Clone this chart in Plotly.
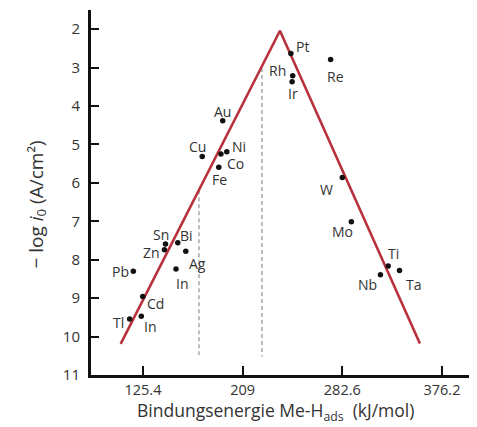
import plotly.graph_objects as go

# Metal data: binding energy Me-H_ads (kJ/mol) and -log i0 (A/cm^2)
metals = ["Pt", "Rh", "Ir", "Re", "W", "Mo", "Ti", "Nb", "Ta",
          "Au", "Cu", "Ni", "Co", "Fe", "Sn", "Bi", "Zn", "Ag",
          "Pb", "In", "Cd", "Tl", "In"]
energy = [249.5, 251.0, 250.5, 282.8, 292.6, 300.2, 331.1, 324.6, 340.6,
          192.3, 175.1, 195.7, 190.8, 189.0, 144.3, 154.6, 143.4, 161.3,
          117.3, 153.1, 125.2, 114.2, 124.0]
neg_log_i0 = [2.63, 3.21, 3.37, 2.79, 5.86, 7.01, 8.16, 8.39, 8.28,
              4.38, 5.31, 5.19, 5.25, 5.59, 7.59, 7.56, 7.74, 7.78,
              8.30, 8.24, 8.96, 9.54, 9.47]

# Volcano line
volcano_x = [106.7, 240.3, 357.7]
volcano_y = [10.19, 2.04, 10.18]

# Dashed reference lines
dash_x = [172.4, 225.2]
dash_top = [6.19, 3.01]
dash_bottom = [10.48, 10.52]

# Axis ticks
x_tickvals = [125.4, 209.0, 292.6, 376.2]
x_ticktext = ["125.4", "209", "282.6", "376.2"]
y_tickvals = [2, 3, 4, 5, 6, 7, 8, 9, 10, 11]

# label offsets in px (dx, dy up)
label_offsets = [(12, 7), (-15, 5), (1, -12), (5, -17), (-16, -12), (-9, -10),
                 (5, 12), (-13, -10), (14, -14),
                 (0, 9), (-5, 10), (12, 5), (15, -9), (1, -12),
                 (-5, 9), (9, 7), (-13, -3), (12, -12),
                 (-13, 0), (6, -15), (13, -7), (-11, -4), (9, -10)]

FONT = "Open Sans"
TXT = "#333333"
PAGE_OFFSET = 8  # default body margin of the html page

L, T, R, B = 91, 10, 0, 52
W, H = 477, 427
plot_w = W - L - R
plot_h = H - T - B

fig = go.Figure()

for x, yt, yb in zip(dash_x, dash_top, dash_bottom):
    fig.add_trace(go.Scatter(x=[x, x], y=[yt, yb], mode="lines",
                             line=dict(color="#9a9a9a", width=1.3, dash="4px,3px"),
                             showlegend=False, hoverinfo="skip"))

fig.add_trace(go.Scatter(x=volcano_x, y=volcano_y, mode="lines",
                         line=dict(color="#b8323c", width=2.6),
                         showlegend=False, hoverinfo="skip"))

fig.add_trace(go.Scatter(x=energy, y=neg_log_i0, mode="markers",
                         marker=dict(color="#111111", size=5.5),
                         showlegend=False, text=metals))

for name, x, y, (dx, dy) in zip(metals, energy, neg_log_i0, label_offsets):
    fig.add_annotation(x=x, y=y, text=name, showarrow=False,
                       xshift=dx, yshift=dy,
                       font=dict(family=FONT, size=14, color=TXT))

fig.add_annotation(xref="paper", yref="paper", x=(275 - L) / plot_w,
                   y=-(412 - (T + plot_h)) / plot_h,
                   xanchor="center", yanchor="middle", showarrow=False,
                   text="Bindungsenergie Me-H<sub>ads</sub>  (kJ/mol)",
                   font=dict(family=FONT, size=17.5, color=TXT))
fig.add_annotation(xref="paper", yref="paper", x=-(L - 36) / plot_w,
                   y=((T + plot_h) - 204.5) / plot_h,
                   xanchor="center", yanchor="middle", showarrow=False, textangle=-90,
                   text="− log <i>i</i><sub>0</sub> (A/cm²)",
                   font=dict(family=FONT, size=19, color=TXT))

fig.update_layout(
    width=W - PAGE_OFFSET, height=H - PAGE_OFFSET,
    margin=dict(l=L - PAGE_OFFSET, r=R, t=T - PAGE_OFFSET, b=B),
    paper_bgcolor="white", plot_bgcolor="white",
    xaxis=dict(range=[81.8, 405.6], tickvals=x_tickvals, ticktext=x_ticktext,
               showgrid=False, zeroline=False, showline=True, linecolor="#111111",
               linewidth=2.5, ticks="inside", ticklen=9, tickwidth=2, tickcolor="#111111",
               tickfont=dict(family=FONT, size=14.5, color=TXT), ticklabelstandoff=0),
    yaxis=dict(range=[11, 1.5], tickvals=y_tickvals,
               showgrid=False, zeroline=False, showline=True, linecolor="#111111",
               linewidth=3, ticks="inside", ticklen=8, tickwidth=2, tickcolor="#111111",
               tickfont=dict(family=FONT, size=15, color=TXT), ticklabelstandoff=5),
    font=dict(family=FONT, color=TXT),
)

fig.write_html("out.html")
